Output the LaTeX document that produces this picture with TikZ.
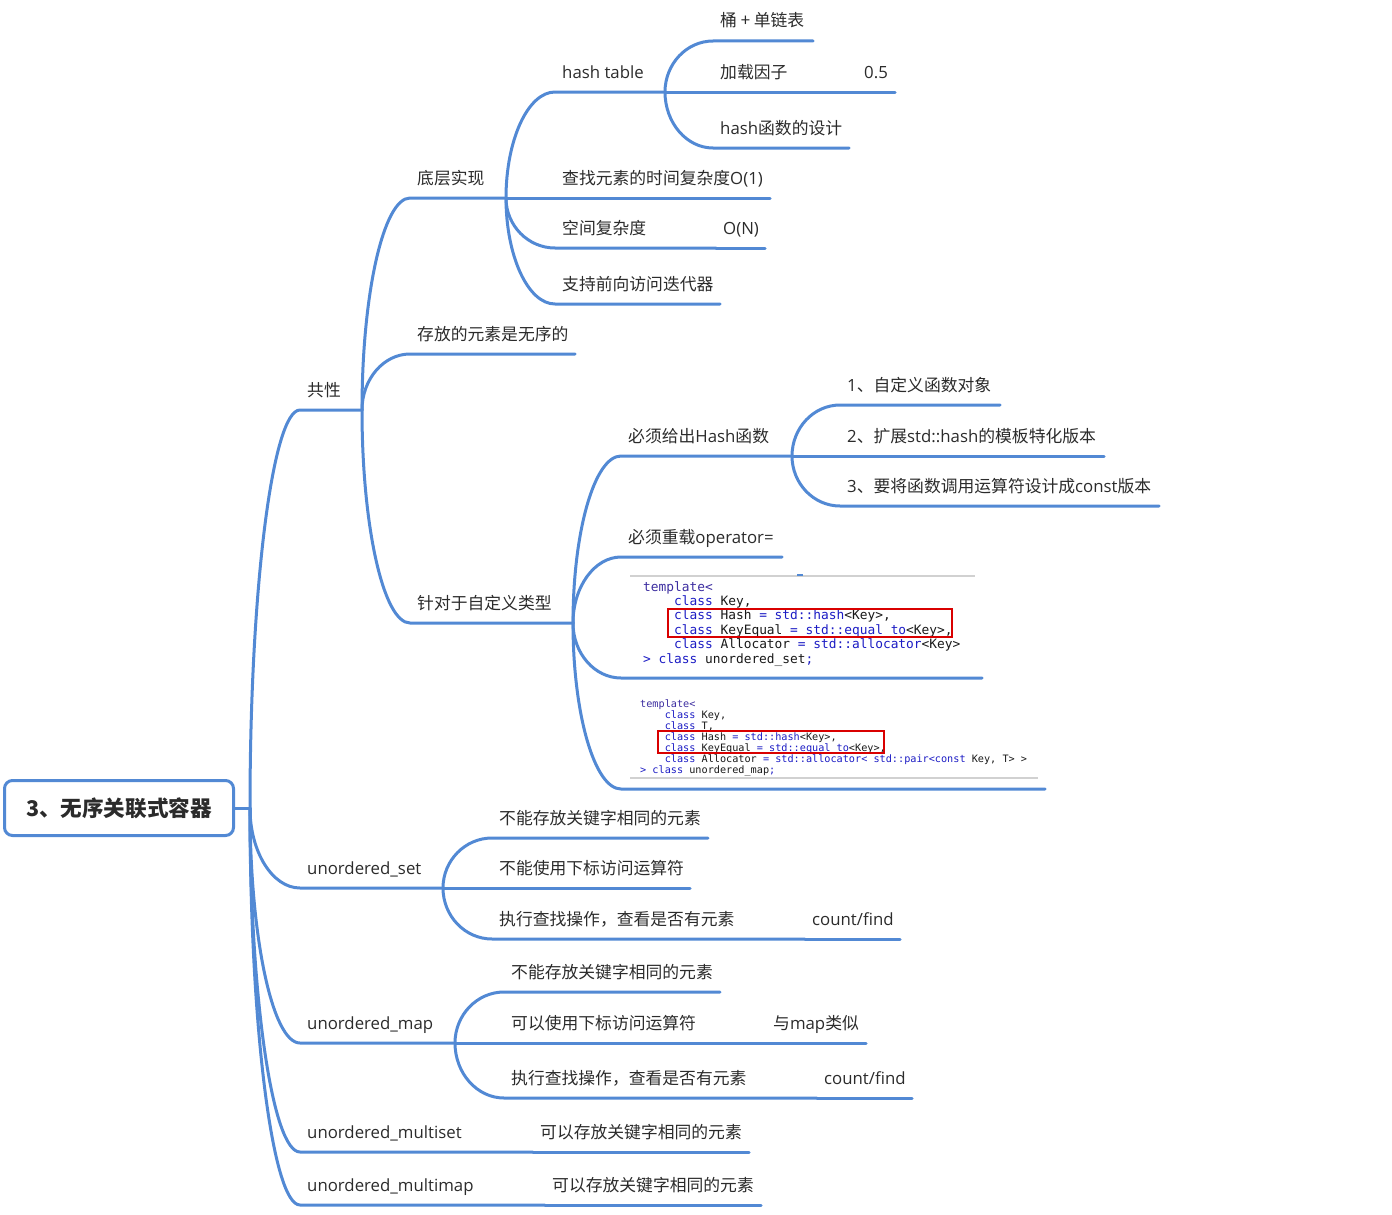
\documentclass[tikz,border=0pt]{standalone}
\usepackage{fontspec}
\setmainfont{Open Sans}
\newfontfamily\cjkfont{Noto Sans CJK SC}
\newfontfamily\codefont{DejaVu Sans Mono}
\usetikzlibrary{calc}
\definecolor{lineblue}{RGB}{82,137,212}
\definecolor{txt}{RGB}{43,43,43}
\definecolor{kwblue}{RGB}{28,28,196}
\definecolor{tplblue}{RGB}{60,45,160}
\definecolor{codetxt}{RGB}{25,25,25}
\newcommand\cj[1]{{\cjkfont #1}}
\newcommand\kw[1]{\textcolor{kwblue}{#1}}
\newcommand\ind{\phantom{xxxx}}
\newcommand\tp[5]{%
  \coordinate (#1-s) at (#2,#3);
  \coordinate (#1-e) at (#4,#3);
  \node[tt] (#1) at ({#2+7},{#3-14}) {#5};}
\tikzset{
  tt/.style={anchor=base west, inner sep=0pt, text=txt, font=\fontsize{16.8}{20}\selectfont},
  bl/.style={draw=lineblue, line width=3pt, line cap=round, line join=round},
  curvy/.style={to path={let \p1=(\tikztostart), \p2=(\tikztotarget) in
     .. controls (\x1,{\y1+0.55*(\y2-\y1)}) and ({\x1+0.45*(\x2-\x1)},\y2) .. (\tikztotarget) \tikztonodes}},
  rootbox/.style={draw=lineblue, line width=3pt, rounded corners=8pt, fill=white,
     minimum width=229pt, minimum height=55pt, inner sep=0pt, text=txt,
     font=\fontsize{21.6}{25}\selectfont\cjkfont\bfseries},
  codeA/.style={anchor=north west, inner sep=0pt, align=left, text=codetxt,
     font=\fontsize{12.85}{14.4}\selectfont\codefont},
  codeB/.style={anchor=north west, inner sep=0pt, align=left, text=codetxt,
     font=\fontsize{10.2}{11.15}\selectfont\codefont},
  redbox/.style={draw=red!85!black, line width=1.2pt},
  grayline/.style={draw=black!18, line width=1.6pt}
}
\begin{document}
\begin{tikzpicture}[x=1pt,y=-1pt]
\useasboundingbox (0,0) rectangle (1392,1215);

% root
\node[rootbox] (root) at (119,808) {3、无序关联式容器};
\coordinate (R) at (250,808);
\draw[bl] (root.east) -- (R);

% level 1
\tp{gx}{300}{410}{362}{\cj{共性}}
\tp{us}{300}{888}{443}{unordered\_set}
\tp{um}{300}{1043}{455}{unordered\_map}
\tp{ums}{300}{1152}{533}{unordered\_multiset}
\tp{umm}{300}{1205}{545}{unordered\_multimap}

% level 2 (共性)
\tp{dc}{410}{198}{506}{\cj{底层实现}}
\tp{cf}{410}{354}{575}{\cj{存放的元素是无序的}}
\tp{zd}{410}{623}{573}{\cj{针对于自定义类型}}

% level 3 (底层实现)
\tp{ht}{555}{92}{665}{hash table}
\tp{cz}{555}{198}{770}{\cj{查找元素的时间复杂度}O(1)}
\tp{kj}{555}{248}{716}{\cj{空间复杂度}}
\tp{on}{716}{248}{765}{O(N)}
\tp{zc}{555}{304}{720}{\cj{支持前向访问迭代器}}

% level 4 (hash table)
\tp{tong}{713}{41}{813}{\cj{桶 + 单链表}}
\tp{jz}{713}{92}{857}{\cj{加载因子}}
\tp{half}{857}{92}{895}{0.5}
\tp{hf}{713}{148}{849}{hash\cj{函数的设计}}

% level 3 (针对于自定义类型)
\tp{bh}{621}{456}{792}{\cj{必须给出}Hash\cj{函数}}
\tp{bo}{621}{557}{782}{\cj{必须重载}operator=}
\coordinate (c1-s) at (621,678);
\coordinate (c1-e) at (982,678);
\coordinate (c2-s) at (621,789);
\coordinate (c2-e) at (1045,789);

% level 4 (必须给出Hash函数)
\tp{f1}{840}{405}{1000}{1\cj{、自定义函数对象}}
\tp{f2}{840}{456}{1104}{2\cj{、扩展}std::hash\cj{的模板特化版本}}
\tp{f3}{840}{506}{1159}{3\cj{、要将函数调用运算符设计成}const\cj{版本}}

% unordered_set children
\tp{s1}{492}{838}{708}{\cj{不能存放关键字相同的元素}}
\tp{s2}{492}{888}{690}{\cj{不能使用下标访问运算符}}
\tp{s3}{492}{939}{805}{\cj{执行查找操作，查看是否有元素}}
\tp{s4}{805}{939}{900}{count/find}

% unordered_map children
\tp{m1}{504}{992}{720}{\cj{不能存放关键字相同的元素}}
\tp{m2}{504}{1043}{766}{\cj{可以使用下标访问运算符}}
\tp{m3}{766}{1043}{866}{\cj{与}map\cj{类似}}
\tp{m4}{504}{1098}{817}{\cj{执行查找操作，查看是否有元素}}
\tp{m5}{817}{1098}{912}{count/find}

% multiset / multimap children
\tp{ms1}{533}{1152}{749}{\cj{可以存放关键字相同的元素}}
\tp{mm1}{545}{1205}{761}{\cj{可以存放关键字相同的元素}}

% code block 1
\draw[grayline] (630,576) -- (975,576);
\draw[lineblue, line width=1.5pt] (797,575) -- (803,575);
\node[codeA] (code1) at (643,581) {%
\textcolor{tplblue}{template<}\\
\ind\kw{class} Key,\\
\ind\kw{class} Hash \kw{= std::hash}<Key>,\\
\ind\kw{class} KeyEqual \kw{= std::equal\_to}<Key>,\\
\ind\kw{class} Allocator \kw{= std::allocator}<Key>\\
\kw{>} \kw{class} unordered\_set\kw{;}};
\draw[redbox] (668,609) rectangle (952,637);

% code block 2
\node[codeB] (code2) at (640,699) {%
\textcolor{tplblue}{template<}\\
\ind\kw{class} Key,\\
\ind\kw{class} T,\\
\ind\kw{class} Hash \kw{= std::hash}<Key>,\\
\ind\kw{class} KeyEqual \kw{= std::equal\_to}<Key>,\\
\ind\kw{class} Allocator \kw{= std::allocator< std::pair<const} Key, T> >\\
\kw{>} \kw{class} unordered\_map\kw{;}};
\draw[redbox] (658,731) rectangle (884,753);
\draw[grayline] (630,778) -- (1038,778);

% connectors
\draw[bl] (R) to[curvy] (gx-s) -- (gx-e);
\draw[bl] (R) to[curvy] (us-s) -- (us-e);
\draw[bl] (R) to[curvy] (um-s) -- (um-e);
\draw[bl] (R) to[curvy] (ums-s) -- (ums-e);
\draw[bl] (R) to[curvy] (umm-s) -- (umm-e);

\draw[bl] (gx-e) to[curvy] (dc-s) -- (dc-e);
\draw[bl] (gx-e) to[curvy] (cf-s) -- (cf-e);
\draw[bl] (gx-e) to[curvy] (zd-s) -- (zd-e);

\draw[bl] (dc-e) to[curvy] (ht-s) -- (ht-e);
\draw[bl] (dc-e) -- (cz-s) -- (cz-e);
\draw[bl] (dc-e) to[curvy] (kj-s) -- (kj-e);
\draw[bl] (kj-e) -- (on-s) -- (on-e);
\draw[bl] (dc-e) to[curvy] (zc-s) -- (zc-e);

\draw[bl] (ht-e) to[curvy] (tong-s) -- (tong-e);
\draw[bl] (ht-e) -- (jz-s) -- (jz-e);
\draw[bl] (jz-e) -- (half-s) -- (half-e);
\draw[bl] (ht-e) to[curvy] (hf-s) -- (hf-e);

\draw[bl] (zd-e) to[curvy] (bh-s) -- (bh-e);
\draw[bl] (zd-e) to[curvy] (bo-s) -- (bo-e);
\draw[bl] (zd-e) to[curvy] (c1-s) -- (c1-e);
\draw[bl] (zd-e) to[curvy] (c2-s) -- (c2-e);

\draw[bl] (bh-e) to[curvy] (f1-s) -- (f1-e);
\draw[bl] (bh-e) -- (f2-s) -- (f2-e);
\draw[bl] (bh-e) to[curvy] (f3-s) -- (f3-e);

\draw[bl] (us-e) to[curvy] (s1-s) -- (s1-e);
\draw[bl] (us-e) -- (s2-s) -- (s2-e);
\draw[bl] (us-e) to[curvy] (s3-s) -- (s3-e);
\draw[bl] (s3-e) -- (s4-s) -- (s4-e);

\draw[bl] (um-e) to[curvy] (m1-s) -- (m1-e);
\draw[bl] (um-e) -- (m2-s) -- (m2-e);
\draw[bl] (m2-e) -- (m3-s) -- (m3-e);
\draw[bl] (um-e) to[curvy] (m4-s) -- (m4-e);
\draw[bl] (m4-e) -- (m5-s) -- (m5-e);

\draw[bl] (ums-e) -- (ms1-s) -- (ms1-e);
\draw[bl] (umm-e) -- (mm1-s) -- (mm1-e);
\end{tikzpicture}
\end{document}
